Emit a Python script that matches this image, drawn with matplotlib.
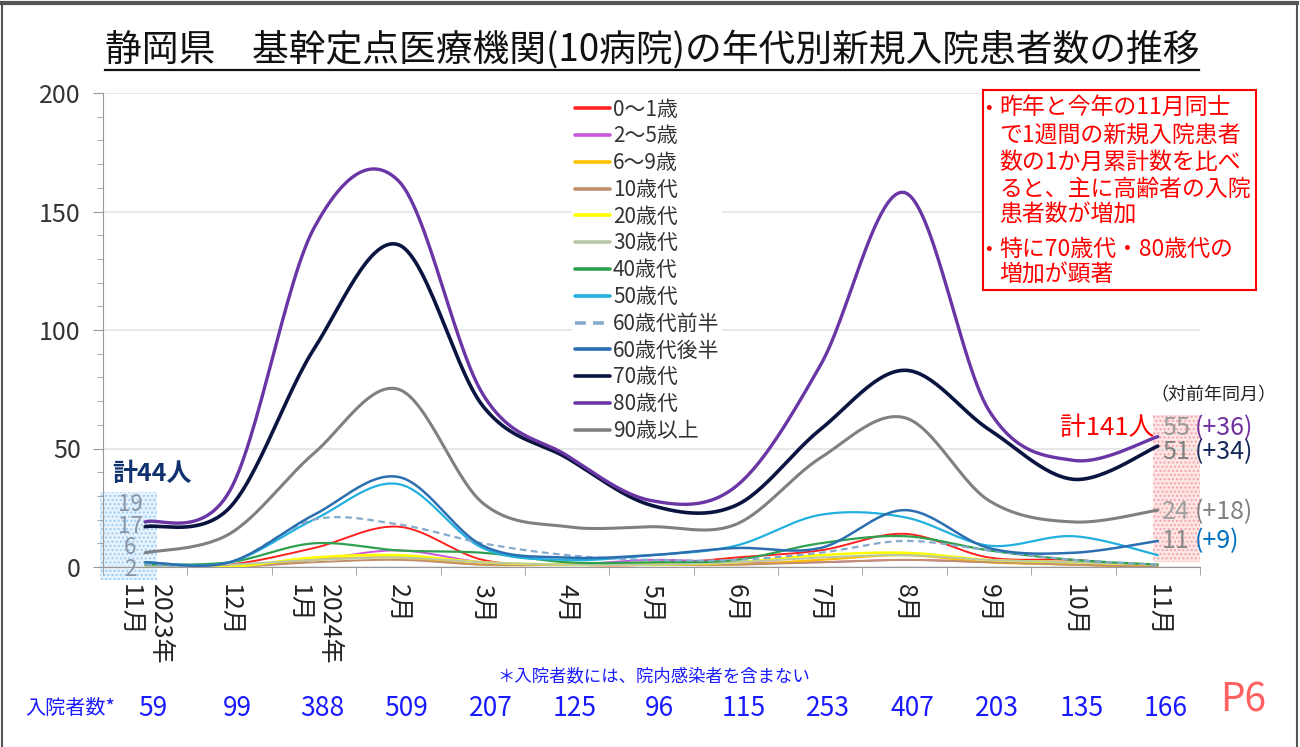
import numpy as np
import matplotlib
matplotlib.use('Agg')
import matplotlib.pyplot as plt
import matplotlib.transforms as mtransforms
from matplotlib.patches import Rectangle
from matplotlib.lines import Line2D

plt.rcParams['font.family'] = ['Noto Sans CJK JP', 'DejaVu Sans']
plt.rcParams['hatch.linewidth'] = 1.0

# 月（2023年11月〜2024年11月）
months = ['2023年\n11月', '12月', '2024年\n1月', '2月', '3月', '4月', '5月',
          '6月', '7月', '8月', '9月', '10月', '11月']
admissions = [59, 99, 388, 509, 207, 125, 96, 115, 253, 407, 203, 135, 166]

# 年代別新規入院患者数
labels = ['0～1歳', '2～5歳', '6～9歳', '10歳代', '20歳代', '30歳代', '40歳代',
          '50歳代', '60歳代前半', '60歳代後半', '70歳代', '80歳代', '90歳以上']
age_0_1 = [0, 1, 8, 17, 3, 1, 1, 4, 7, 14, 4, 3, 0]
age_2_5 = [0, 0, 3, 7, 2, 1, 3, 2, 2, 3, 2, 1, 0]
age_6_9 = [0, 0, 3, 4, 1, 1, 1, 1, 3, 5, 2, 1, 0]
age_10s = [0, 0, 2, 3, 1, 1, 1, 1, 2, 3, 2, 1, 0]
age_20s = [0, 0, 4, 5, 2, 1, 1, 2, 5, 6, 3, 2, 1]
age_30s = [0, 1, 3, 4, 2, 1, 1, 2, 4, 5, 3, 2, 1]
age_40s = [1, 2, 10, 7, 6, 2, 2, 3, 10, 13, 7, 3, 1]
age_50s = [2, 2, 20, 35, 8, 3, 5, 9, 22, 21, 9, 13, 5]
age_60a = [1, 2, 20, 18, 10, 5, 3, 3, 6, 11, 7, 3, 1]
age_60b = [2, 2, 22, 38, 9, 4, 5, 8, 8, 24, 8, 6, 11]
age_70s = [17, 25, 92, 136, 68, 46, 26, 26, 58, 83, 58, 37, 51]
age_80s = [19, 32, 143, 163, 73, 47, 28, 34, 85, 158, 66, 45, 55]
age_90p = [6, 14, 48, 75, 27, 17, 17, 18, 46, 63, 28, 19, 24]
series = [age_0_1, age_2_5, age_6_9, age_10s, age_20s, age_30s, age_40s,
          age_50s, age_60a, age_60b, age_70s, age_80s, age_90p]

# 両端の表示値
start_vals = ['19', '17', '6', '2']
end_rows = [('55', '(+36)'), ('51', '(+34)'), ('24', '(+18)'), ('11', '(+9)')]

styles = {
    '0～1歳': ('#ff2020', 1.4, '-'),
    '2～5歳': ('#c957dc', 1.4, '-'),
    '6～9歳': ('#ffc000', 1.6, '-'),
    '10歳代': ('#c0906c', 1.4, '-'),
    '20歳代': ('#ffff00', 1.8, '-'),
    '30歳代': ('#b8c8a8', 1.4, '-'),
    '40歳代': ('#2ea050', 1.6, '-'),
    '50歳代': ('#22b0e0', 1.6, '-'),
    '60歳代前半': ('#86aacc', 1.6, (0, (3, 2))),
    '60歳代後半': ('#2b6fb0', 1.8, '-'),
    '70歳代': ('#0a1440', 2.6, '-'),
    '80歳代': ('#6a35a5', 2.4, '-'),
    '90歳以上': ('#808080', 2.2, '-'),
}


def smooth(y, n=30):
    # Excel風の平滑線（Catmull-Rom -> Bezier）
    p = np.column_stack([np.arange(len(y)), y]).astype(float)
    prev = np.vstack([p[:1], p[:-1]])
    nxt = np.vstack([p[1:], p[-1:]])
    m = (nxt - prev) / 2
    t = np.linspace(0, 1, n)[:, None]
    out = []
    for i in range(len(p) - 1):
        b0, b3 = p[i], p[i + 1]
        b1 = b0 + m[i] / 3
        b2 = b3 - m[i + 1] / 3
        seg = (1 - t)**3 * b0 + 3 * (1 - t)**2 * t * b1 + 3 * (1 - t) * t**2 * b2 + t**3 * b3
        out.append(seg if i == 0 else seg[1:])
    out = np.vstack(out)
    return out[:, 0], out[:, 1]


W, H = 1300, 747
def fx(px):
    return px / W
def fy(py):
    return 1 - py / H


fig = plt.figure(figsize=(13, 7.47), dpi=100)
ax = fig.add_axes([fx(103), fy(567), (1200 - 103) / W, (567 - 93) / H])
ax.set_facecolor('none')

for lab, vals in zip(labels, series):
    c, lw, ls = styles[lab]
    xs, ys = smooth(vals)
    ax.plot(xs, ys, color=c, lw=lw, ls=ls, label=lab, solid_capstyle='round')

ax.set_xlim(-0.5, 12.5)
ax.set_ylim(0, 200)
ax.set_yticks([0, 50, 100, 150, 200])
ax.set_yticks(np.arange(0, 201, 10), minor=True)
ax.set_xticks(np.arange(13))
ax.set_xticks(np.arange(-0.5, 13, 1), minor=True)
ax.set_xticklabels(months, rotation=-90, va='top', ha='center')
for t in ax.get_xticklabels():
    t.set_multialignment('left')
ax.tick_params(axis='x', which='major', length=0, pad=12, labelsize=18, labelcolor='#222')
ax.tick_params(axis='x', which='minor', length=6, color='#999', direction='out')
ax.tick_params(axis='y', which='major', length=7, color='#999', labelsize=18, labelcolor='#333', pad=9)
ax.tick_params(axis='y', which='minor', length=4, color='#999')
ax.grid(axis='y', which='major', color='#e4e4e4', lw=1.2)
ax.set_axisbelow(True)
for s in ['top', 'right']:
    ax.spines[s].set_visible(False)
for s in ['left', 'bottom']:
    ax.spines[s].set_color('#999')

leg = ax.legend(loc='upper left', bbox_to_anchor=(fx(562), fy(86)), bbox_transform=fig.transFigure,
                fontsize=15, handlelength=1.7, handletextpad=0.15, labelspacing=0.23,
                borderpad=0.1, frameon=True, fancybox=False, framealpha=1)
leg.get_frame().set_edgecolor('none')
for t in leg.get_texts():
    t.set_color('#333')
for h in leg.get_lines():
    h.set_linewidth(2.6)

# 外枠
fig.add_artist(Line2D([fx(2), fx(2)], [0, fy(3)], color='#555', lw=1.5))
fig.add_artist(Line2D([fx(1297), fx(1297)], [0, fy(3)], color='#555', lw=1.5))
fig.add_artist(Line2D([fx(2), fx(1297)], [fy(3), fy(3)], color='#555', lw=3))

# タイトル（下線付き）
title = fig.text(fx(652), fy(50), '静岡県　基幹定点医療機関(10病院)の年代別新規入院患者数の推移',
                 ha='center', va='center', fontsize=26.5, color='#111')
fig.canvas.draw()
bb = title.get_window_extent().transformed(fig.transFigure.inverted())
fig.add_artist(Line2D([bb.x0, bb.x1], [fy(70), fy(70)], color='#111', lw=1.6))

# 右上の説明ボックス
fig.add_artist(Rectangle((fx(983), fy(290)), (1256 - 983) / W, (290 - 90) / H,
                         transform=fig.transFigure, facecolor='white', edgecolor='#ff0000', lw=1.5))
box_lines = [(107, '•', '昨年と今年の11月同士'),
             (135, '', 'で1週間の新規入院患者'),
             (162, '', '数の1か月累計数を比べ'),
             (189, '', 'ると、主に高齢者の入院'),
             (215, '', '患者数が増加'),
             (249, '•', '特に70歳代・80歳代の'),
             (275, '', '増加が顕著')]
for py, bul, txt in box_lines:
    if bul:
        fig.text(fx(985), fy(py), bul, ha='left', va='center', fontsize=14, color='#ff0000')
    fig.text(fx(999), fy(py), txt, ha='left', va='center', fontsize=16.5, color='#ff0000')

# 左端のラベル
fig.add_artist(Rectangle((fx(100), fy(580)), 57 / W, 88 / H, transform=fig.transFigure,
                         facecolor='#e6f2fc', edgecolor='#9ccdf5', hatch='....', lw=0, zorder=-1))
fig.text(fx(112), fy(474), '計44人', ha='left', va='center', fontsize=18, fontweight='bold', color='#10306e')
fig.text(fx(130), fy(537), '\n'.join(start_vals), ha='center', va='center', multialignment='center',
         fontsize=16, linespacing=0.93, color='#8a94a8')

# 右端のラベル
fig.add_artist(Rectangle((fx(1153), fy(562)), 47 / W, 147 / H, transform=fig.transFigure,
                         facecolor='#fde6e6', edgecolor='#f5a5a5', hatch='....', lw=0, zorder=-1))
fig.text(fx(1213), fy(395), '（対前年同月）', ha='center', va='center', fontsize=13, color='#222')
fig.text(fx(1154), fy(428), '計141人', ha='right', va='center', fontsize=18.5, color='#ff0000')
row_y = [428, 452, 512, 541]
num_colors = ['#9a9a9a', '#7f7f7f', '#a0a0a0', '#8a8a8a']
diff_colors = ['#7030a0', '#14285a', '#808080', '#0070c0']
for py, (n, d), nc, dc in zip(row_y, end_rows, num_colors, diff_colors):
    fig.text(fx(1176), fy(py), n, ha='center', va='center', fontsize=18, color=nc)
    fig.text(fx(1195), fy(py), d, ha='left', va='center', fontsize=18, color=dc)

# 下段
fig.text(fx(654), fy(676), '＊入院者数には、院内感染者を含まない', ha='center', va='center',
         fontsize=12.5, color='#1a1aff')
fig.text(fx(25), fy(708), '入院者数*', ha='left', va='center', fontsize=14.5, color='#1a1aff')
trans = mtransforms.blended_transform_factory(ax.transData, fig.transFigure)
trans = trans + mtransforms.ScaledTranslation(8 / 100, 0, fig.dpi_scale_trans)
for i, v in enumerate(admissions):
    ax.text(i, fy(708), str(v), transform=trans, ha='center', va='center',
            fontsize=19, color='#1a1aff', clip_on=False)
fig.text(fx(1243), fy(700), 'P6', ha='center', va='center', fontsize=28, color='#ff6060')

fig.savefig('out.png', dpi=100)
